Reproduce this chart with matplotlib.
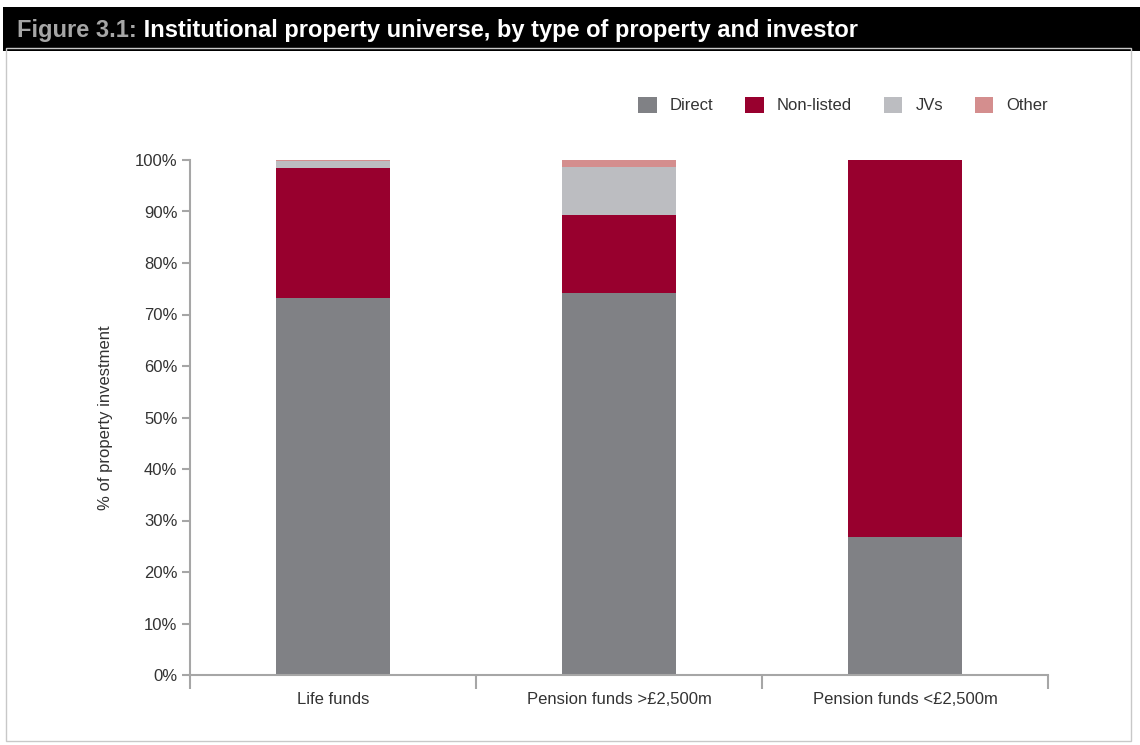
import numpy as np
import matplotlib.pyplot as plt
from matplotlib.patches import Rectangle

# dados
categorias = ['Life funds', 'Pension funds >£2,500m', 'Pension funds <£2,500m']
direct = [73.2, 74.2, 26.8]
non_listed = [25.2, 15.1, 73.2]
jvs = [1.4, 9.3, 0.0]
other = [0.2, 1.4, 0.0]

series = ['Direct', 'Non-listed', 'JVs', 'Other']
cores = ['#808185', '#98002E', '#BCBDC1', '#D48E8E']

plt.rcParams['font.family'] = ['Liberation Sans', 'DejaVu Sans']

fig = plt.figure(figsize=(11.4, 7.45), dpi=100)

# Cabeçalho preto (zorder baixo para ficar atrás do título)
fig.patches.append(Rectangle((0.003, 0.932), 0.997, 0.058, transform=fig.transFigure,
                             facecolor='black', edgecolor='none', zorder=-2))
fig.patches.append(Rectangle((0.005, 0.005), 0.987, 0.93, transform=fig.transFigure,
                             facecolor='none', edgecolor='#c8c8c8', lw=1, zorder=-2))

# Área do gráfico
ax = fig.add_axes([190/1140, 1 - 675/745, (1048-190)/1140, (675-160)/745])

t1 = fig.text(0.015, 0.959, 'Figure 3.1:', color='#a6a6a6', fontsize=17, fontweight='bold',
              va='center', ha='left')
ax.annotate(' Institutional property universe, by type of property and investor',
            xy=(1, 0.5), xycoords=t1, va='center', ha='left',
            color='white', fontsize=17, fontweight='bold', annotation_clip=False)

x = np.arange(len(categorias))
base = np.zeros(len(categorias))
for nome, vals, cor in zip(series, [direct, non_listed, jvs, other], cores):
    ax.bar(x, vals, bottom=base, width=0.4, color=cor, label=nome, edgecolor='none')
    base += np.array(vals)

ax.set_xlim(-0.5, 2.5)
ax.set_ylim(0, 100)
ax.set_yticks(np.arange(0, 101, 10))
ax.set_yticklabels([f'{v}%' for v in range(0, 101, 10)], fontsize=12, color='#333333')
ax.set_xticks([-0.5, 0.5, 1.5, 2.5])
ax.set_xticklabels([])
ax.set_xticks(x, minor=True)
ax.set_xticklabels(categorias, minor=True, fontsize=12, color='#333333')
ax.tick_params(axis='x', which='major', length=10, color='#a6a6a6', width=1.5)
ax.tick_params(axis='x', which='minor', length=0, pad=12)
ax.tick_params(axis='y', length=6, color='#a6a6a6', width=1.5, pad=3)

for s in ['top', 'right']:
    ax.spines[s].set_visible(False)
for s in ['left', 'bottom']:
    ax.spines[s].set_color('#a6a6a6')
    ax.spines[s].set_linewidth(1.5)

ax.set_ylabel('% of property investment', fontsize=12, color='#333333', labelpad=16)

ax.legend(loc='center right', bbox_to_anchor=(1.0, 1.107), ncol=4, frameon=False,
          fontsize=12, handlelength=1.1, handleheight=1.1, columnspacing=1.9,
          handletextpad=0.8, labelcolor='#333333', borderaxespad=0, borderpad=0)

plt.savefig('out.png', dpi=100)
